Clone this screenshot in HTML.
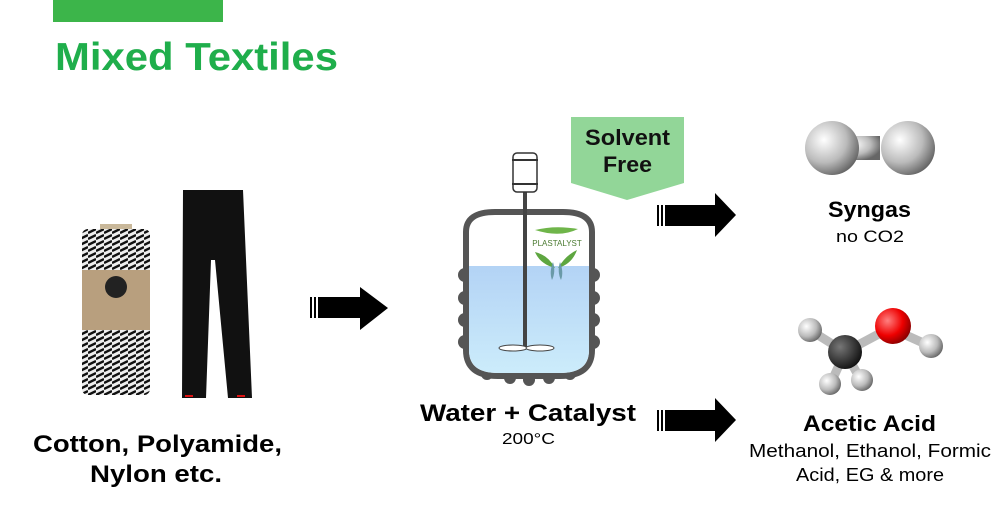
<!DOCTYPE html>
<html><head><meta charset="utf-8"><style>
body{margin:0;width:1000px;height:525px;overflow:hidden;background:#fff;font-family:"Liberation Sans",sans-serif}
svg{display:block}
text{font-family:"Liberation Sans","DejaVu Sans",sans-serif}
</style></head><body>
<svg width="1000" height="525" viewBox="0 0 1000 525">
<defs>
<linearGradient id="liq" x1="0" y1="0" x2="0" y2="1"><stop offset="0" stop-color="#b3d3f5"/><stop offset="1" stop-color="#ccecfb"/></linearGradient>
<radialGradient id="gs" cx="0.35" cy="0.35" r="0.7"><stop offset="0" stop-color="#fff"/><stop offset="0.6" stop-color="#bbb"/><stop offset="1" stop-color="#666"/></radialGradient>
<radialGradient id="rs" cx="0.35" cy="0.35" r="0.7"><stop offset="0" stop-color="#ff8080"/><stop offset="0.6" stop-color="#e00"/><stop offset="1" stop-color="#800"/></radialGradient>
<radialGradient id="ks" cx="0.35" cy="0.35" r="0.7"><stop offset="0" stop-color="#777"/><stop offset="1" stop-color="#111"/></radialGradient>
<pattern id="tw" width="8" height="6" patternUnits="userSpaceOnUse"><rect width="8" height="6" fill="#eee"/><path d="M0 5 L8 1" stroke="#111" stroke-width="2.4"/></pattern>
</defs>
<rect x="53" y="0" width="170" height="22" fill="#3cb54a"/>
<text x="55" y="70" font-size="39" font-weight="bold" fill="#1fae4b" textLength="283" lengthAdjust="spacingAndGlyphs">Mixed Textiles</text>
<!-- twine spool -->
<rect x="100" y="224" width="32" height="8" fill="#c9b89a"/>
<rect x="82" y="229" width="68" height="166" rx="6" fill="url(#tw)"/>
<rect x="82" y="270" width="68" height="60" fill="#b89f7e"/>
<circle cx="116" cy="287" r="11" fill="#222"/>
<!-- pants -->
<path d="M183 190 L243 190 L252 398 L228 398 L215 260 L211 260 L206 398 L182 398 Z" fill="#111"/>
<rect x="185" y="395" width="8" height="2" fill="#d11"/><rect x="237" y="395" width="8" height="2" fill="#d11"/>
<text x="33" y="452" font-size="24" font-weight="bold" fill="#000" textLength="249" lengthAdjust="spacingAndGlyphs">Cotton, Polyamide,</text>
<text x="90" y="482" font-size="24" font-weight="bold" fill="#000" textLength="132" lengthAdjust="spacingAndGlyphs">Nylon etc.</text>
<!-- arrow 1 -->
<g fill="#000"><rect x="310" y="297" width="2" height="21"/><rect x="314" y="297" width="2" height="21"/><path d="M318 297 H360 V287 L388 308 L360 330 V318 H318 Z"/></g>
<!-- reactor -->
<g fill="#555">
<circle cx="465" cy="275" r="7"/><circle cx="465" cy="298" r="7"/><circle cx="465" cy="320" r="7"/><circle cx="465" cy="342" r="7"/>
<circle cx="593" cy="275" r="7"/><circle cx="593" cy="298" r="7"/><circle cx="593" cy="320" r="7"/><circle cx="593" cy="342" r="7"/>
<circle cx="487" cy="374" r="6"/><circle cx="510" cy="378" r="6"/><circle cx="529" cy="380" r="6"/><circle cx="549" cy="378" r="6"/><circle cx="570" cy="374" r="6"/>
</g>
<path d="M466 232 Q466 212 495 212 L563 212 Q592 212 592 232 L592 350 Q592 376 560 376 L498 376 Q466 376 466 350 Z" fill="#fff" stroke="#555" stroke-width="6"/>
<path d="M469 266 H589 V350 Q589 373 560 373 L498 373 Q469 373 469 350 Z" fill="url(#liq)"/>
<rect x="523" y="191" width="4" height="156" fill="#444"/>
<rect x="513" y="153" width="24" height="39" rx="4" fill="#fff" stroke="#333" stroke-width="1.5"/>
<rect x="512" y="159" width="26" height="2" fill="#333"/><rect x="512" y="183" width="26" height="2" fill="#333"/>
<ellipse cx="513" cy="348" rx="14" ry="3" fill="#fff" stroke="#444"/><ellipse cx="540" cy="348" rx="14" ry="3" fill="#fff" stroke="#444"/>
<path d="M535 230 Q555 225 578 229 Q560 238 535 230Z" fill="#6fb54a"/>
<text x="557" y="246" font-size="8" text-anchor="middle" fill="#4a7a30">PLASTALYST</text>
<path d="M535 252 Q548 255 555 268 Q540 264 535 252Z M577 250 Q566 255 558 268 Q572 264 577 250Z" fill="#5ea640"/>
<path d="M553 262 Q549 272 552 280 Q556 272 553 262Z M560 262 Q564 272 561 280 Q557 272 560 262Z" fill="#6a9aa8"/>
<!-- solvent free -->
<path d="M571 117 H684 V183 L627 200 L571 183 Z" fill="#92d698"/>
<text x="585" y="145" font-size="22" font-weight="bold" fill="#111" textLength="85" lengthAdjust="spacingAndGlyphs">Solvent</text>
<text x="603" y="172" font-size="22" font-weight="bold" fill="#111" textLength="49" lengthAdjust="spacingAndGlyphs">Free</text>
<text x="420" y="421" font-size="24" font-weight="bold" fill="#000" textLength="216" lengthAdjust="spacingAndGlyphs">Water + Catalyst</text>
<text x="502" y="444" font-size="16" fill="#000" textLength="53" lengthAdjust="spacingAndGlyphs">200°C</text>
<!-- arrows right -->
<g fill="#000"><rect x="657" y="205" width="2" height="21"/><rect x="661" y="205" width="2" height="21"/><path d="M665 205 H715 V193 L736 215 L715 237 V226 H665 Z"/></g>
<g fill="#000"><rect x="657" y="410" width="2" height="21"/><rect x="661" y="410" width="2" height="21"/><path d="M665 410 H715 V398 L736 420 L715 442 V431 H665 Z"/></g>
<!-- syngas -->
<rect x="840" y="136" width="40" height="24" fill="url(#gs)"/>
<circle cx="832" cy="148" r="27" fill="url(#gs)"/><circle cx="908" cy="148" r="27" fill="url(#gs)"/>
<text x="828" y="217" font-size="22" font-weight="bold" fill="#000" textLength="83" lengthAdjust="spacingAndGlyphs">Syngas</text>
<text x="836" y="242" font-size="17" fill="#000" textLength="68" lengthAdjust="spacingAndGlyphs">no CO2</text>
<!-- acetic acid -->
<g stroke="#bbb" stroke-width="9"><line x1="845" y1="352" x2="890" y2="328"/><line x1="890" y1="328" x2="930" y2="346"/><line x1="845" y1="352" x2="810" y2="330"/><line x1="845" y1="352" x2="830" y2="385"/><line x1="845" y1="352" x2="862" y2="382"/></g>
<circle cx="810" cy="330" r="12" fill="url(#gs)"/><circle cx="830" cy="384" r="11" fill="url(#gs)"/><circle cx="862" cy="380" r="11" fill="url(#gs)"/>
<circle cx="845" cy="352" r="17" fill="url(#ks)"/>
<circle cx="893" cy="326" r="18" fill="url(#rs)"/>
<circle cx="931" cy="346" r="12" fill="url(#gs)"/>
<text x="803" y="431" font-size="22" font-weight="bold" fill="#000" textLength="133" lengthAdjust="spacingAndGlyphs">Acetic Acid</text>
<text x="749" y="457" font-size="18" fill="#000" textLength="242" lengthAdjust="spacingAndGlyphs">Methanol, Ethanol, Formic</text>
<text x="796" y="481" font-size="18" fill="#000" textLength="148" lengthAdjust="spacingAndGlyphs">Acid, EG &amp; more</text>
</svg>
</body></html>
